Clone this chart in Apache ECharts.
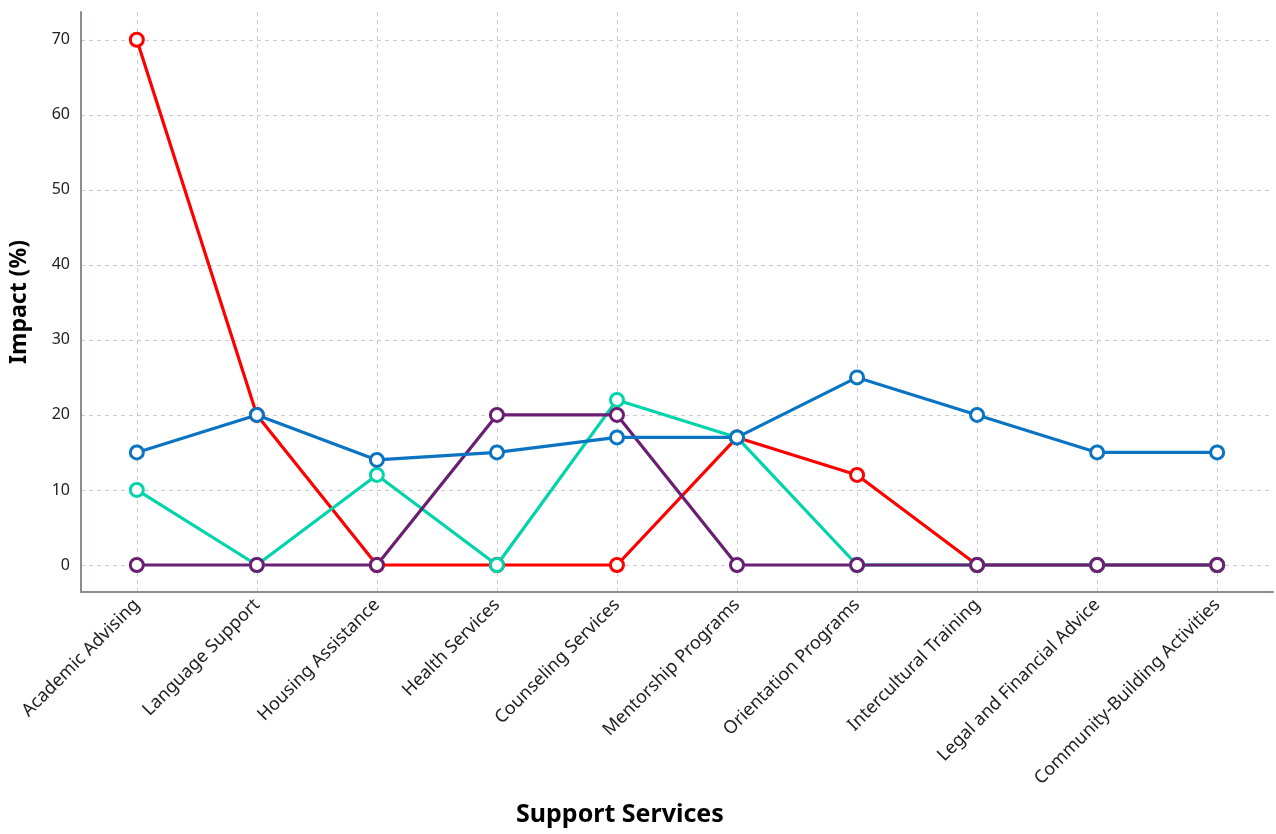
<!DOCTYPE html>
<html>
<head>
<meta charset="utf-8">
<script src="https://cdn.jsdelivr.net/npm/echarts@6/dist/echarts.min.js"></script>
<style>html,body{margin:0;padding:0;background:#fff}#c{width:1276px;height:834px}</style>
</head>
<body>
<div id="c"></div>
<script>
const categories = ["Academic Advising","Language Support","Housing Assistance","Health Services","Counseling Services","Mentorship Programs","Orientation Programs","Intercultural Training","Legal and Financial Advice","Community-Building Activities"];
const redValues    = [70, 20, 0, 0, 0, 17, 12, 0, 0, 0];
const tealValues   = [10, 0, 12, 0, 22, 17, 0, 0, 0, 0];
const purpleValues = [0, 0, 0, 20, 20, 0, 0, 0, 0, 0];
const blueValues   = [15, 20, 14, 15, 17, 17, 25, 20, 15, 15];
const yTicks = [0, 10, 20, 30, 40, 50, 60, 70];
const xTicks = categories.map((c, i) => i);

const FONT = "'Noto Sans', 'Open Sans', sans-serif";
function mk(name, vals, color) {
  return {
    name: name, type: 'line',
    data: vals.map((v, i) => [i, v]),
    symbol: 'circle', symbolSize: 13, showSymbol: true,
    lineStyle: { color: color, width: 3.2 },
    itemStyle: { color: '#fff', borderColor: color, borderWidth: 3 },
    color: color
  };
}
const chart = echarts.init(document.getElementById('c'), null, { renderer: 'canvas' });
chart.setOption({
  animation: false,
  backgroundColor: '#fff',
  grid: { left: 80, right: 3, top: 12, bottom: 242, containLabel: false },
  xAxis: {
    type: 'value', min: -0.465, max: 9.465,
    axisLine: { show: true, onZero: false, lineStyle: { color: '#8a8d91', width: 2 } },
    axisTick: { show: false, customValues: xTicks },
    splitLine: { show: true, lineStyle: { color: '#cccccc', type: [4, 4], width: 1 } },
    axisLabel: {
      customValues: xTicks, rotate: 45, margin: 10,
      fontFamily: FONT, fontSize: 18, color: '#222',
      formatter: v => categories[Math.round(v)]
    }
  },
  yAxis: {
    type: 'value', min: -3.6, max: 73.7,
    name: 'Impact (%)', nameLocation: 'middle', nameGap: 50,
    nameTextStyle: { fontFamily: FONT, fontSize: 23, fontWeight: 'bold', color: '#000' },
    axisLine: { show: true, onZero: false, lineStyle: { color: '#8a8d91', width: 2 } },
    axisTick: { show: false, customValues: yTicks },
    splitLine: { show: true, lineStyle: { color: '#cccccc', type: [4, 4], width: 1 } },
    axisLabel: { customValues: yTicks, margin: 11, fontFamily: FONT, fontSize: 16, color: '#222' }
  },
  graphic: [{
    type: 'text', left: 620 - 104, top: 802,
    style: { text: 'Support Services', fontFamily: FONT, fontSize: 25, fontWeight: 'bold', fill: '#000' }
  }],
  series: [
    mk('Red', redValues, '#ff0000'),
    mk('Teal', tealValues, '#00d4aa'),
    mk('Purple', purpleValues, '#6a1f72'),
    mk('Blue', blueValues, '#0a74c2')
  ]
});
</script>
</body>
</html>
